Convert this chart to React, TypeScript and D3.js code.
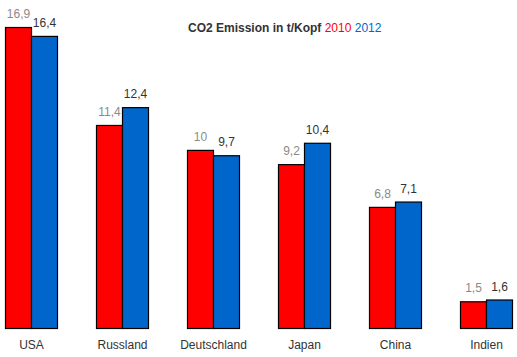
import React from "react";
import * as d3 from "d3";

const categories = ["USA", "Russland", "Deutschland", "Japan", "China", "Indien"];
const values2010 = [16.9, 11.4, 10, 9.2, 6.8, 1.5];
const values2012 = [16.4, 12.4, 9.7, 10.4, 7.1, 1.6];
const seriesNames = ["2010", "2012"];

const W = 517;
const H = 357;

export default function App() {
  const x = d3.scaleBand<string>().domain(categories).range([5, 512]).paddingInner(39 / 91).paddingOuter(0);
  const sub = d3.scaleBand<string>().domain(seriesNames).range([0, x.bandwidth()]).padding(0);
  const y = d3.scaleLinear().domain([0, 16.9]).range([328, 27]);
  const fmt = (v: number) => String(v).replace(".", ",");
  const font = "Arial, 'Liberation Sans', sans-serif";
  const series = [
    { name: seriesNames[0], vals: values2010, fill: "#ff0000", label: "#8a8a8a" },
    { name: seriesNames[1], vals: values2012, fill: "#0066cc", label: "#333333" },
  ];
  return (
    <svg width={W} height={H} style={{ position: "absolute", left: 0, top: 0, background: "#fff" }}>
      <text x={188} y={32} fontFamily={font} fontSize={12} fontWeight="bold" fill="#333">
        CO2 Emission in t/Kopf
        <tspan fontWeight="normal" fill="#ff0000"> 2010</tspan>
        <tspan fontWeight="normal" fill="#0066cc"> 2012</tspan>
      </text>
      {categories.map((c, i) => (
        <g key={c}>
          {series.map((s) => {
            const bx = (x(c) ?? 0) + (sub(s.name) ?? 0);
            const v = s.vals[i];
            return (
              <g key={s.name}>
                <rect x={bx + 0.5} y={y(v) + 0.5} width={sub.bandwidth()} height={y(0) - y(v)} fill={s.fill} stroke="#000" strokeWidth={1.2} />
                <text x={bx + sub.bandwidth() / 2 + 0.5} y={y(v) - 9} textAnchor="middle" fontFamily={font} fontSize={12} fill={s.label}>
                  {fmt(v)}
                </text>
              </g>
            );
          })}
          <text x={(x(c) ?? 0) + x.bandwidth() / 2 + 0.5} y={349} textAnchor="middle" fontFamily={font} fontSize={12} fill="#333">
            {c}
          </text>
        </g>
      ))}
    </svg>
  );
}
